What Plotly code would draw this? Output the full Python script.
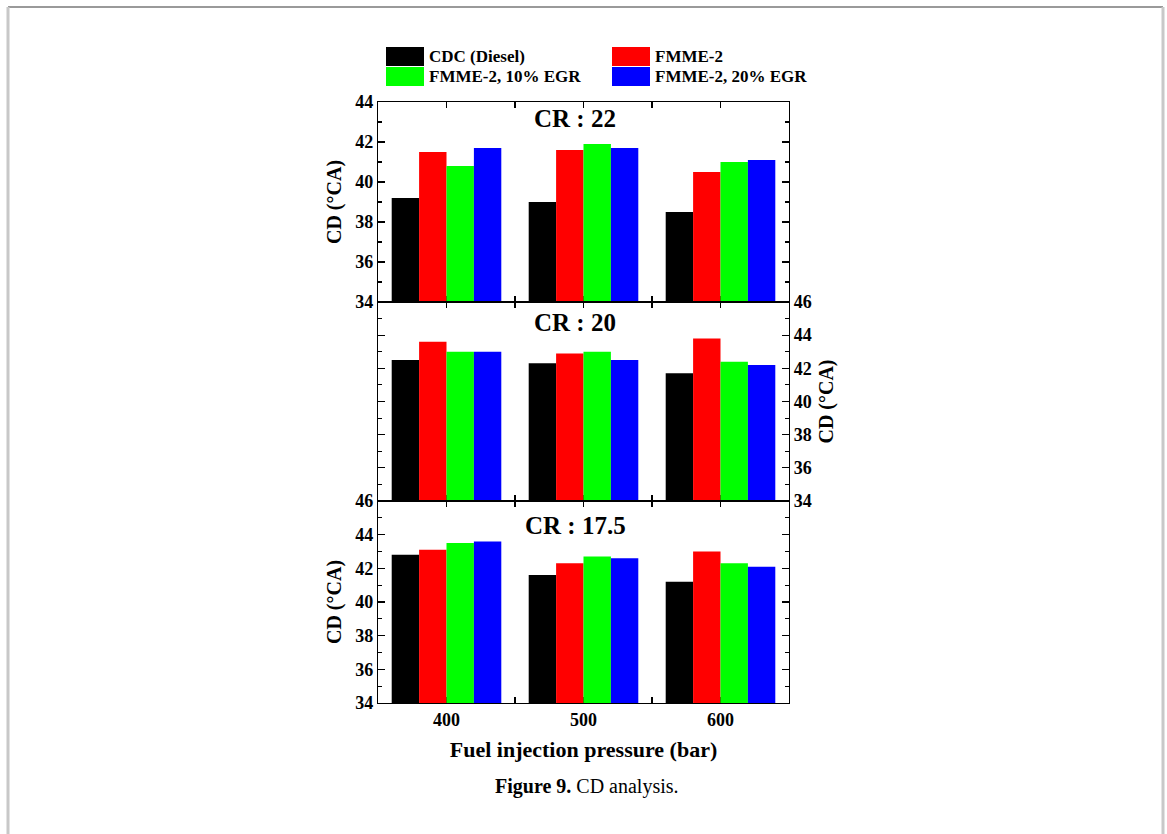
import plotly.graph_objects as go
from plotly.subplots import make_subplots

# ---------------- data ----------------
pressures = ["400", "500", "600"]
series_names = ["CDC (Diesel)", "FMME-2", "FMME-2, 10% EGR", "FMME-2, 20% EGR"]
series_colors = ["#000000", "#ff0000", "#00ff00", "#0000ff"]

panel_titles = ["CR : 22", "CR : 20", "CR : 17.5"]

cr22_cdc = [39.2, 39.0, 38.5]
cr22_fmme = [41.5, 41.6, 40.5]
cr22_egr10 = [40.8, 41.9, 41.0]
cr22_egr20 = [41.7, 41.7, 41.1]

cr20_cdc = [42.5, 42.3, 41.7]
cr20_fmme = [43.6, 42.9, 43.8]
cr20_egr10 = [43.0, 43.0, 42.4]
cr20_egr20 = [43.0, 42.5, 42.2]

cr175_cdc = [42.8, 41.6, 41.2]
cr175_fmme = [43.1, 42.3, 43.0]
cr175_egr10 = [43.5, 42.7, 42.3]
cr175_egr20 = [43.6, 42.6, 42.1]

panels = [
    [cr22_cdc, cr22_fmme, cr22_egr10, cr22_egr20],
    [cr20_cdc, cr20_fmme, cr20_egr10, cr20_egr20],
    [cr175_cdc, cr175_fmme, cr175_egr10, cr175_egr20],
]
y_ranges = [[34, 44], [34, 46], [34, 46]]

# ---------------- figure ----------------
W, H = 1167, 834
L, R, T, B = 378, 789, 102, 703
fig = make_subplots(rows=3, cols=1, shared_xaxes=True, vertical_spacing=0)

xpos = list(range(len(pressures)))
bounds = [i + 0.5 for i in range(len(pressures) - 1)]

for r, panel in enumerate(panels, start=1):
    for name, color, vals in zip(series_names, series_colors, panel):
        fig.add_trace(go.Bar(x=xpos, y=vals, name=name, marker_color=color,
                             marker_line_width=0, showlegend=False, hoverinfo="skip"),
                      row=r, col=1)

serif = "Liberation Serif"
tickfont = dict(family=serif, size=18, color="black", weight="bold")

def py2paper(py):
    return (B - py) / (B - T)

def px2paper(px):
    return (px - L) / (R - L)

domains = [[py2paper(302), 1.0], [py2paper(501), py2paper(302)], [0.0, py2paper(501)]]

for r in range(1, 4):
    xa = "xaxis" if r == 1 else f"xaxis{r}"
    ya = "yaxis" if r == 1 else f"yaxis{r}"
    fig.layout[xa].update(
        range=[-0.5, len(pressures) - 0.5], tickmode="array", tickvals=xpos,
        ticktext=pressures, ticks="inside", ticklen=6, tickwidth=1.2, tickcolor="black",
        minor=dict(tickmode="array", tickvals=bounds, ticks="inside", ticklen=6,
                   tickwidth=1.2, tickcolor="black"),
        showline=True, linecolor="black", linewidth=1.2, mirror="ticks",
        showgrid=False, zeroline=False, layer="below traces",
        showticklabels=(r == 3), tickfont=dict(family=serif, size=18, color="black", weight="bold"),
    )
    fig.layout[ya].update(
        domain=domains[r - 1], range=y_ranges[r - 1], tickmode="linear", tick0=34, dtick=2,
        ticks="inside", ticklen=7, tickwidth=1.2, tickcolor="black",
        minor=dict(dtick=1, ticks="inside", ticklen=4, tickwidth=1.1, tickcolor="black"),
        showline=True, linecolor="black", linewidth=1.2, mirror="ticks",
        showgrid=False, zeroline=False, tickfont=tickfont,
        side="right" if r == 2 else "left",
        title=dict(text="CD (°CA)", font=dict(family=serif, size=20, color="black", weight="bold"),
                   standoff=8),
    )

fig.layout["xaxis3"].title = dict(text="Fuel injection pressure (bar)",
                                  font=dict(family=serif, size=22, color="black", weight="bold"),
                                  standoff=12)

fig.update_layout(barmode="group", bargap=0.2, bargroupgap=0)

annotations = []
title_y = [119, 322, 525]
for t, ty in zip(panel_titles, title_y):
    annotations.append(dict(text=t, xref="paper", yref="paper", x=px2paper(575), y=py2paper(ty),
                            showarrow=False, xanchor="center", yanchor="middle",
                            font=dict(family=serif, size=25, color="black", weight="bold")))

# manual legend (two columns)
legend_pos = [(386, 47), (612, 47), (386, 67), (612, 67)]
shapes = []
for (lx, ly), name, color in zip(legend_pos, series_names, series_colors):
    shapes.append(dict(type="rect", xref="paper", yref="paper",
                       x0=px2paper(lx), x1=px2paper(lx + 38), y0=py2paper(ly), y1=py2paper(ly + 19),
                       fillcolor=color, line=dict(width=0)))
    annotations.append(dict(text=name, xref="paper", yref="paper", x=px2paper(lx + 41),
                            y=py2paper(ly + 9.5), xanchor="left", yanchor="middle", showarrow=False,
                            font=dict(family=serif, size=17, color="black", weight="bold")))

# caption
annotations.append(dict(text="<b>Figure 9.</b> CD analysis.", xref="paper", yref="paper",
                        x=px2paper(587), y=py2paper(787), xanchor="center", yanchor="middle",
                        showarrow=False, font=dict(family=serif, size=20, color="black")))

# outer page frame
shapes += [
    dict(type="line", xref="paper", yref="paper", x0=px2paper(8), x1=px2paper(1163),
         y0=py2paper(7), y1=py2paper(7), line=dict(color="#9a9a9a", width=2)),
    dict(type="line", xref="paper", yref="paper", x0=px2paper(8), x1=px2paper(8),
         y0=py2paper(7), y1=py2paper(840), line=dict(color="#c8c8c8", width=3)),
    dict(type="line", xref="paper", yref="paper", x0=px2paper(1163), x1=px2paper(1163),
         y0=py2paper(7), y1=py2paper(840), line=dict(color="#c8c8c8", width=3)),
]

fig.update_layout(
    width=W, height=H, autosize=False,
    margin=dict(l=L, r=W - R, t=T, b=H - B, pad=0),
    paper_bgcolor="white", plot_bgcolor="white",
    annotations=annotations, shapes=shapes, showlegend=False,
)

fig.write_html("out.html", config={"displayModeBar": False, "staticPlot": True},
               post_script="document.body.style.margin='0px';document.body.style.overflow='hidden';")
